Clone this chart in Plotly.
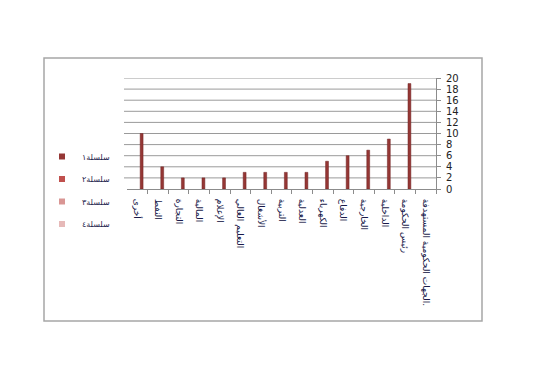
import plotly.graph_objects as go

# Categories in the chart's own (right-to-left) order
categories = [
    "الجهات الحكومية المستهدفة.",
    "رئيس الحكومة",
    "الداخلية",
    "الخارجية",
    "الدفاع",
    "الكهرباء",
    "العدلية",
    "التربية",
    "الأشغال",
    "التعليم العالي",
    "الإعلام",
    "المالية",
    "التجارة",
    "النفط",
    "أخرى",
]
series1 = [None, 19, 9, 7, 6, 5, 3, 3, 3, 3, 2, 2, 2, 4, 10]
series_names = ["سلسلة١", "سلسلة٢", "سلسلة٣", "سلسلة٤"]
series_colors = ["#953735", "#C0504D", "#D99694", "#E6B9B8"]
y_ticks = [0, 2, 4, 6, 8, 10, 12, 14, 16, 18, 20]

fig = go.Figure()
all_values = [series1, [None] * len(categories), [None] * len(categories), [None] * len(categories)]
for i, (name, vals) in enumerate(zip(series_names, all_values)):
    fig.add_trace(go.Bar(
        x=categories, y=vals, name=name, showlegend=False,
        marker=dict(color=series_colors[i], line=dict(color="#6e2322", width=0.5) if i == 0 else dict(width=0)),
    ))
# legend-only entries with small square swatches
for i, name in enumerate(series_names):
    fig.add_trace(go.Scatter(
        x=[None], y=[None], mode="markers", name=name,
        marker=dict(symbol="square", size=6, color=series_colors[i]),
        legendgroup=name,
    ))

W, H = 550, 387
L, R, T, B = 127, 114, 78, 198
pw, ph = W - L - R, H - T - B

def px2x(px):
    return (px - L) / pw

def px2y(py):
    return (H - B - py) / ph

fig.update_layout(
    width=W, height=H,
    margin=dict(l=L, r=R, t=T, b=B, pad=0),
    paper_bgcolor="white", plot_bgcolor="white",
    barmode="group", bargap=0.44, bargroupgap=0,
    font=dict(family="DejaVu Sans", size=9, color="#000"),
    showlegend=True,
    legend=dict(
        x=px2x(42), y=px2y(142), xanchor="left", yanchor="top",
        traceorder="grouped", tracegroupgap=3.5,
        font=dict(size=8, color="#1a1a4a"),
        itemwidth=30, bgcolor="rgba(0,0,0,0)",
    ),
    xaxis=dict(
        autorange="reversed", tickangle=90,
        showline=True, linecolor="#8c8c8c", linewidth=1,
        ticks="outside", ticklen=4, tickcolor="#8c8c8c", tickson="boundaries",
        showgrid=False, ticklabelstandoff=7,
        tickfont=dict(family="DejaVu Sans", size=9, color="#1a1a4a"),
    ),
    yaxis=dict(
        side="right", range=[0, 20], tickvals=y_ticks,
        showline=True, linecolor="#8c8c8c", linewidth=1,
        ticks="outside", ticklen=4, tickcolor="#8c8c8c",
        showgrid=False,
        zeroline=False, ticklabelstandoff=3,
        tickfont=dict(family="DejaVu Sans", size=10, color="#222"),
    ),
    shapes=[
        dict(
            type="rect", xref="paper", yref="paper",
            x0=px2x(44), x1=px2x(482), y0=px2y(321), y1=px2y(58),
            line=dict(color="#a6a6a6", width=1.5), fillcolor="rgba(0,0,0,0)", layer="below",
        ),
    ],
)
# gridlines (they reach a few pixels past the left edge of the axis, as in the reference)
for v in y_ticks[1:]:
    fig.add_shape(type="line", xref="paper", yref="y", x0=px2x(124), x1=1, y0=v, y1=v,
                  line=dict(color="#9a9a9a", width=1), layer="below")

fig.write_html("out.html")
